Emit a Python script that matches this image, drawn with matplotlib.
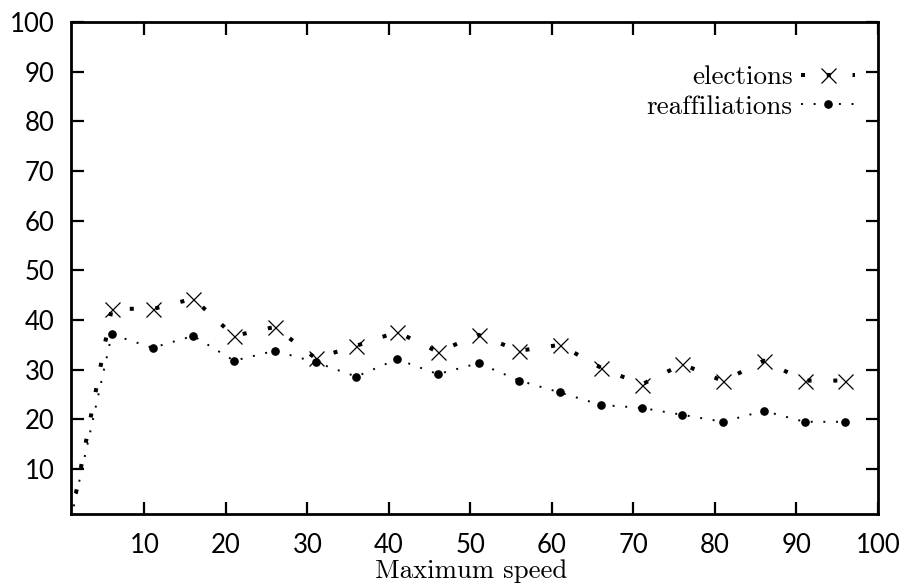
import matplotlib
matplotlib.use("Agg")
import matplotlib.pyplot as plt

# Data
speed = [1, 6, 11, 16, 21, 26, 31, 36, 41, 46, 51, 56, 61, 66, 71, 76, 81, 86, 91, 96]
elections = [0, 42.3, 42.2, 44.3, 36.8, 38.6, 32.3, 34.8, 37.6, 33.6, 37.0,
             33.8, 35.0, 30.4, 27.0, 31.1, 27.7, 31.8, 27.8, 27.8]
reaffiliations = [0, 37.1, 34.4, 36.8, 31.8, 33.8, 31.5, 28.6, 32.1, 29.1, 31.3,
                  27.8, 25.4, 22.9, 22.3, 20.9, 19.5, 21.7, 19.5, 19.5]

xticks = [10, 20, 30, 40, 50, 60, 70, 80, 90, 100]
yticks = [10, 20, 30, 40, 50, 60, 70, 80, 90, 100]

serif = "cmr10"
sans = "Lato"

fig = plt.figure(figsize=(9.07, 5.86), dpi=100)
ax = fig.add_axes([0.0783, 0.1234, 0.8897, 0.8391])

# gnuplot-like dotted lines with markers (markers only on data points, not at x=1)
ax.plot(speed, elections, color="black", lw=2.9, linestyle=(0, (1, 5.4)),
        dash_capstyle="butt", marker="x", markersize=10.8, markeredgewidth=0.9,
        markevery=list(range(1, len(speed))), label="elections")
ax.plot(speed, reaffiliations, color="black", lw=1.4, linestyle=(0, (1, 5.5)),
        dash_capstyle="butt", marker="o", markersize=5.2,
        markevery=list(range(1, len(speed))), label="reaffiliations")

ax.set_xlim(1, 100)
ax.set_ylim(1, 100)
ax.set_xticks(xticks)
ax.set_yticks(yticks)

for side in ax.spines.values():
    side.set_linewidth(2.0)
ax.tick_params(direction="in", length=9, width=1.6, top=True, right=True,
               labelsize=18.5)
ax.tick_params(axis="x", pad=14)
ax.tick_params(axis="y", pad=12)
for lbl in ax.get_xticklabels() + ax.get_yticklabels():
    lbl.set_family(sans)

ax.set_xlabel("Maximum speed", fontsize=19.3, family=serif)
ax.xaxis.set_label_coords(0.496, -0.093)

leg = ax.legend(loc="upper right", frameon=False, markerfirst=False,
                prop={"family": serif, "size": 19.5}, handlelength=2.0,
                handletextpad=0.3, labelspacing=0.2, borderaxespad=0.3,
                bbox_to_anchor=(0.995, 0.95))

fig.savefig("out.png", dpi=100)
